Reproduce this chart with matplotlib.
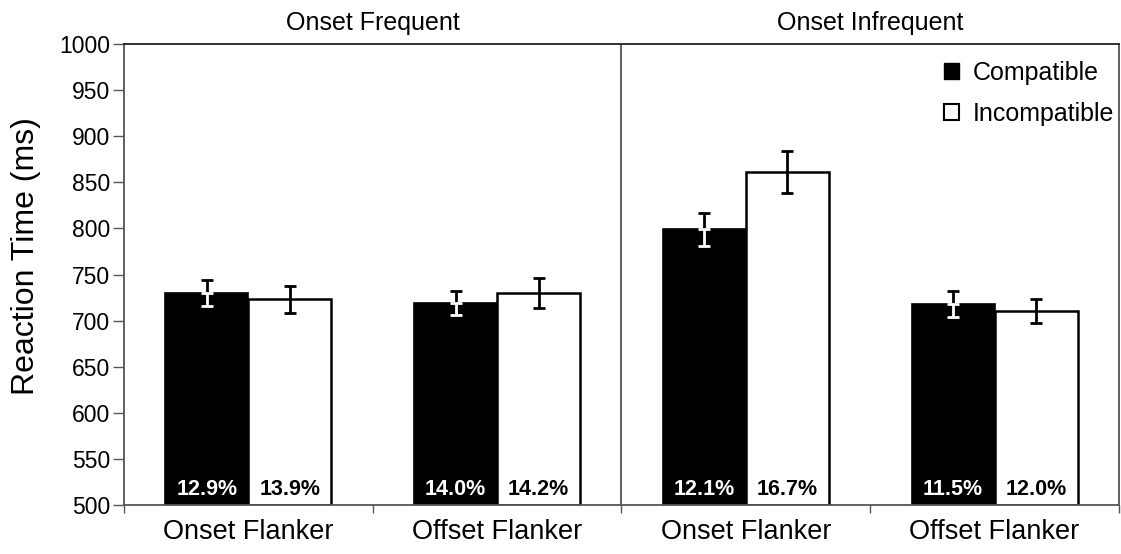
import matplotlib
matplotlib.use("Agg")
import matplotlib.pyplot as plt
from matplotlib.patches import Patch
import numpy as np

plt.rcParams['font.family'] = ['Liberation Sans', 'DejaVu Sans']

categories = ["Onset Flanker", "Offset Flanker", "Onset Flanker", "Offset Flanker"]
panels = ["Onset Frequent", "Onset Infrequent"]
compatible = [730, 719, 799, 718]
incompatible = [723, 730, 861, 710]
compatible_err = [14, 13, 18, 14]
incompatible_err = [15, 16, 23, 13]
compatible_pct = ["12.9%", "14.0%", "12.1%", "11.5%"]
incompatible_pct = ["13.9%", "14.2%", "16.7%", "12.0%"]
yticks = list(range(500, 1001, 50))

fig = plt.figure(figsize=(11.21, 5.54), dpi=100)
ax = fig.add_axes([0.1106, 0.0884, 0.8876, 0.8322])

x = np.arange(len(categories))
w = 1 / 3
bottom = 500
ax.bar(x - w / 2, np.array(compatible) - bottom, w, bottom=bottom, color="black",
       edgecolor="black", linewidth=1.2, zorder=2)
ax.bar(x + w / 2, np.array(incompatible) - bottom, w, bottom=bottom, color="white",
       edgecolor="black", linewidth=1.8, zorder=2)

zeros = [0] * len(categories)
# compatible: upper half black, lower half (inside black bar) white
ax.errorbar(x - w / 2, compatible, yerr=[zeros, compatible_err], fmt="none", ecolor="black",
            elinewidth=2, capsize=4, capthick=2, zorder=4)
ax.errorbar(x - w / 2, compatible, yerr=[compatible_err, zeros], fmt="none", ecolor="white",
            elinewidth=2, capsize=4, capthick=2, zorder=4)
ax.errorbar(x + w / 2, incompatible, yerr=incompatible_err, fmt="none", ecolor="black",
            elinewidth=2, capsize=4, capthick=2, zorder=4)

for i in range(len(categories)):
    ax.text(x[i] - w / 2, 505.5, compatible_pct[i], color="white", fontsize=15.5,
            fontweight="bold", ha="center", va="bottom", zorder=5)
    ax.text(x[i] + w / 2, 505.5, incompatible_pct[i], color="black", fontsize=15.5,
            fontweight="bold", ha="center", va="bottom", zorder=5)

ax.set_xlim(-0.5, len(categories) - 0.5)
ax.set_ylim(500, 1000)
ax.set_yticks(yticks)
ax.set_yticklabels([str(t) for t in yticks], fontsize=16.5)
ax.tick_params(axis="y", direction="out", length=8, width=1, color="#555555", pad=2)
ax.set_xticks(x)
ax.set_xticklabels(categories, fontsize=19.5)
ax.tick_params(axis="x", length=0, pad=10)
ax.set_xticks(np.arange(-0.5, len(categories)), minor=True)
ax.tick_params(axis="x", which="minor", direction="out", length=6, width=1, color="#555555")
ax.set_ylabel("Reaction Time (ms)", fontsize=23, labelpad=13, y=0.54)

for s in ["left", "bottom", "right"]:
    ax.spines[s].set_color("#555555")
    ax.spines[s].set_linewidth(1.3)
ax.spines["top"].set_color("#222222")
ax.spines["top"].set_linewidth(1.3)
ax.axvline(1.5, color="#555555", linewidth=1.3, zorder=1)

ax.text(0.5, 1.02, panels[0], transform=ax.get_xaxis_transform(), ha="center",
        va="bottom", fontsize=18)
ax.text(2.5, 1.02, panels[1], transform=ax.get_xaxis_transform(), ha="center",
        va="bottom", fontsize=18)

handles = [Patch(facecolor="black", edgecolor="black", label="Compatible"),
           Patch(facecolor="white", edgecolor="black", linewidth=1.5, label="Incompatible")]
ax.legend(handles=handles, loc="upper right", frameon=False, fontsize=18,
          handlelength=0.6, handleheight=0.6, handletextpad=0.55, labelspacing=0.7,
          borderaxespad=0.0, borderpad=0.2, bbox_to_anchor=(1.0, 0.975))

fig.savefig("out.png", dpi=100)
